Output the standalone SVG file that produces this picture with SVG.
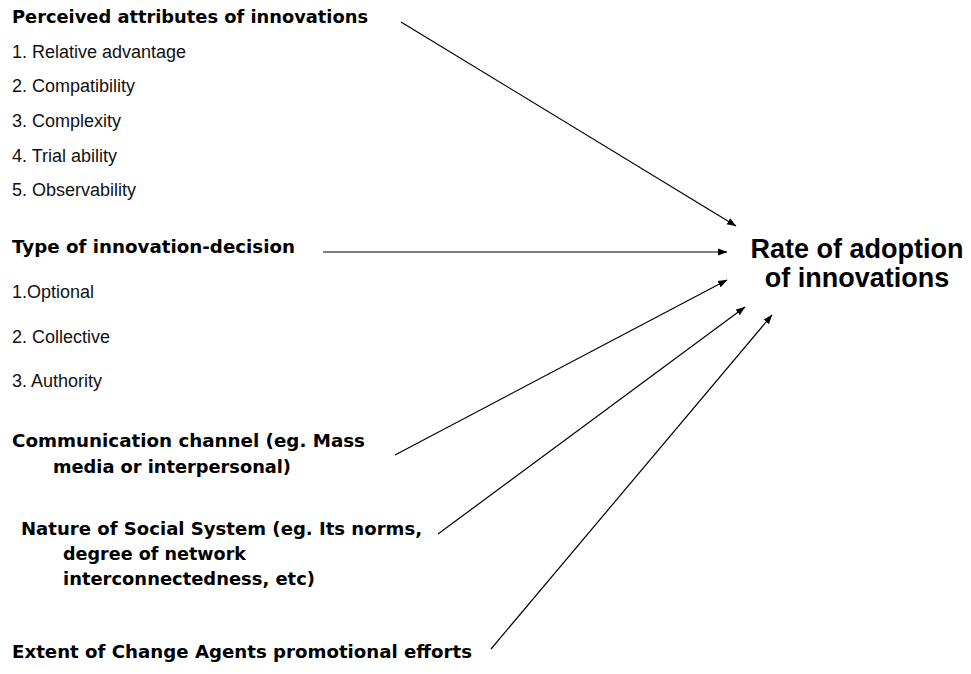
<svg xmlns="http://www.w3.org/2000/svg" width="971" height="674" viewBox="0 0 971 674">
  <style>
    .head { font-family: "DejaVu Sans", Verdana, sans-serif; font-weight: bold; font-size: 17px; fill: #000; }
    .item { font-family: "Liberation Sans", Arial, sans-serif; font-size: 18px; fill: #111; }
    .target { font-family: "Liberation Sans", Arial, sans-serif; font-weight: bold; font-size: 27px; fill: #000; }
    .conn { stroke: #000; stroke-width: 1.2; fill: none; marker-end: url(#arrow); }
  </style>
  <defs>
    <marker id="arrow" markerUnits="userSpaceOnUse" markerWidth="10" markerHeight="8" refX="9" refY="4" orient="auto">
      <path d="M0,0.5 L9.5,4 L0,7.5 Z" fill="#000"/>
    </marker>
  </defs>
  <rect width="971" height="674" fill="#fff"/>

  <!-- influencing factors -->
  <g id="perceived-attributes">
    <text class="head" x="12" y="23" textLength="356" lengthAdjust="spacingAndGlyphs">Perceived attributes of innovations</text>
    <text class="item" x="12" y="58">1. Relative advantage</text>
    <text class="item" x="12" y="92">2. Compatibility</text>
    <text class="item" x="12" y="127">3. Complexity</text>
    <text class="item" x="12" y="162">4. Trial ability</text>
    <text class="item" x="12" y="196">5. Observability</text>
  </g>

  <g id="decision-type">
    <text class="head" x="12" y="253" textLength="283" lengthAdjust="spacingAndGlyphs">Type of innovation-decision</text>
    <text class="item" x="12" y="298">1.Optional</text>
    <text class="item" x="12" y="343">2. Collective</text>
    <text class="item" x="12" y="387">3. Authority</text>
  </g>

  <g id="communication-channel">
    <text class="head" x="12" y="447" textLength="353" lengthAdjust="spacingAndGlyphs">Communication channel (eg. Mass</text>
    <text class="head" x="53" y="473" textLength="238" lengthAdjust="spacingAndGlyphs">media or interpersonal)</text>
  </g>

  <g id="social-system">
    <text class="head" x="21" y="535" textLength="401" lengthAdjust="spacingAndGlyphs">Nature of Social System (eg. Its norms,</text>
    <text class="head" x="63" y="560" textLength="183" lengthAdjust="spacingAndGlyphs">degree of network</text>
    <text class="head" x="63" y="585" textLength="252" lengthAdjust="spacingAndGlyphs">interconnectedness, etc)</text>
  </g>

  <g id="change-agents">
    <text class="head" x="12" y="658" textLength="460" lengthAdjust="spacingAndGlyphs">Extent of Change Agents promotional efforts</text>
  </g>

  <!-- outcome -->
  <g id="adoption-rate">
    <text class="target" x="857" y="258" text-anchor="middle">Rate of adoption</text>
    <text class="target" x="857" y="287" text-anchor="middle">of innovations</text>
  </g>

  <!-- arrows into the outcome -->
  <g id="connectors">
    <line class="conn" x1="401" y1="22" x2="736" y2="226"/>
    <line class="conn" x1="323" y1="252" x2="727" y2="252"/>
    <line class="conn" x1="395" y1="455" x2="727" y2="280"/>
    <line class="conn" x1="438" y1="534" x2="745" y2="307"/>
    <line class="conn" x1="491" y1="649" x2="772" y2="315"/>
  </g>
</svg>
